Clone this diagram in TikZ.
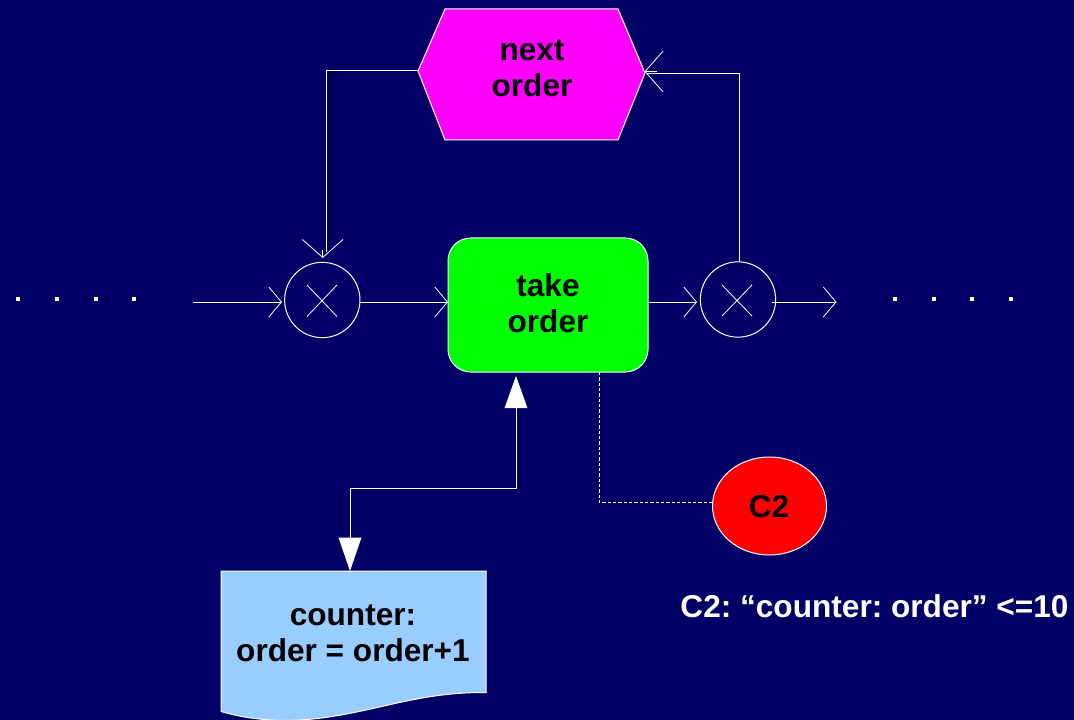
\documentclass[tikz,border=0pt]{standalone}
\usepackage{fontspec}
\setmainfont{Liberation Sans}
\usetikzlibrary{arrows.meta,shapes.geometric}
\definecolor{bg}{HTML}{000066}
\definecolor{hexfill}{HTML}{FF00FF}
\definecolor{taskfill}{HTML}{00FF00}
\definecolor{rulefill}{HTML}{FF0000}
\definecolor{docfill}{HTML}{99CCFF}
\tikzset{
  x=0.75pt,y=-0.75pt,
  wire/.style={draw=white,line width=0.75pt},
  barb/.style={wire,-{Straight Barb[length=9.5pt,width=22.5pt,line width=0.6pt]}},
  barbbig/.style={wire,-{Straight Barb[length=13.5pt,width=30.5pt,line width=0.6pt]}},
  solidtip/.style={wire,{Triangle[length=24pt,width=17pt,fill=white]}-{Triangle[length=25pt,width=17pt,fill=white]}},
  dashwire/.style={draw=white,line width=0.6pt,dash pattern=on 2.5pt off 1.5pt},
  shapeline/.style={draw=white,line width=0.75pt},
  label/.style={font=\frenchspacing\fontsize{23.7}{27.2}\selectfont\bfseries,align=center,text=black,inner sep=0pt},
  xorgate/.style={circle,shapeline,minimum size=56.5pt,inner sep=0pt},
  crossline/.style={draw=white,line width=0.6pt},
  dotmark/.style={fill=white,inner sep=0pt,minimum size=2.8pt,rectangle},
}
\begin{document}
\begin{tikzpicture}
\useasboundingbox (0,0) rectangle (1074,720);
\fill[bg] (0,0) rectangle (1074,720);
\clip (0,0) rectangle (1074,720);

% dots
\foreach \i/\px in {a/18,b/57,c/96,d/134,e/895,f/934,g/972,h/1011}
  \node[dotmark] (dot\i) at (\px,299) {};

% hexagon
\coordinate (hexL) at (418,71);
\coordinate (hexR) at (645,73);
\fill[hexfill] (hexL) -- (445,9) -- (618,9) -- (hexR) -- (618,140) -- (445,140) -- cycle;
\draw[shapeline] (hexL) -- (445,9) -- (618,9) -- (hexR) -- (618,140) -- (445,140) -- cycle;
\node[label] (next) at (532,68) {next\\order};

% task
\node[draw=white,line width=0.75pt,fill=taskfill,rounded corners=17pt,minimum width=150pt,minimum height=100.5pt,inner sep=0pt] (take) at (548,305) {};
\node[label] (taketext) at (548,303.5) {take\\order};

% gates
\node[xorgate] (g1) at (322.3,300) {};
\node[xorgate] (g2) at (738,299.5) {};
\draw[crossline] (307,285) -- (337,316.5) (337,285) -- (307,316.5);
\draw[crossline] (722,285) -- (752,316) (752,285) -- (722,316);

% event
\node[ellipse,draw=white,line width=0.75pt,fill=rulefill,minimum width=85.5pt,minimum height=73.5pt,inner sep=0pt,label] (c2) at (769.5,506) {};
\node[label] (c2name) at (769,506.5) {C2};
\node[label,text=white,anchor=center] (c2text) at (874.5,606) {C2: “counter: order” <=10};

% document
\coordinate (docTL) at (221,571);
\coordinate (docTR) at (486,571);
\coordinate (docTop) at (350,571);
\fill[docfill] (docTL) -- (docTR) -- (486,692.5) .. controls (425,692) and (385,708) .. (335,716) .. controls (300,722) and (260,723) .. (221,711.5) -- cycle;
\draw[shapeline] (221,711.5) -- (docTL) -- (docTR) -- (486,692.5) .. controls (425,692) and (385,708) .. (335,716) .. controls (300,722) and (260,723) .. (221,711.5);
\node[label] (doc) at (353,633) {counter:\\order = order+1};

% connectors
\coordinate (start) at (193,302);
\coordinate (end) at (836.5,302);
\coordinate (g1in) at (282,302);
\coordinate (g1out) at (360,302);
\coordinate (takein) at (448,302);
\coordinate (takeout) at (648,302);
\coordinate (g2in) at (697,302);
\coordinate (g2out) at (772,302);
\coordinate (g1top) at (322.7,258);
\coordinate (hexTip) at (644.5,71.5);
\draw[barb] (start) -- (g1in);
\draw[barb] (g1out) -- (takein);
\draw[barb] (takeout) -- (g2in);
\draw[barb] (g2out) -- (end);
\draw[wire] (hexL) -- (326,71) -- (326,252);
\draw[barbbig] (322.7,250) -- (g1top);
\draw[wire] (739,261) -- (739,74) -- (647,74);
\draw[barbbig] (657,71.5) -- (hexTip);

\coordinate (takeArrow) at (516,376);
\draw[solidtip] (takeArrow) -- (516,488) -- (350,488) -- (docTop);

\draw[dashwire] (599,372) -- (599,502) -- (713,502);
\end{tikzpicture}
\end{document}
